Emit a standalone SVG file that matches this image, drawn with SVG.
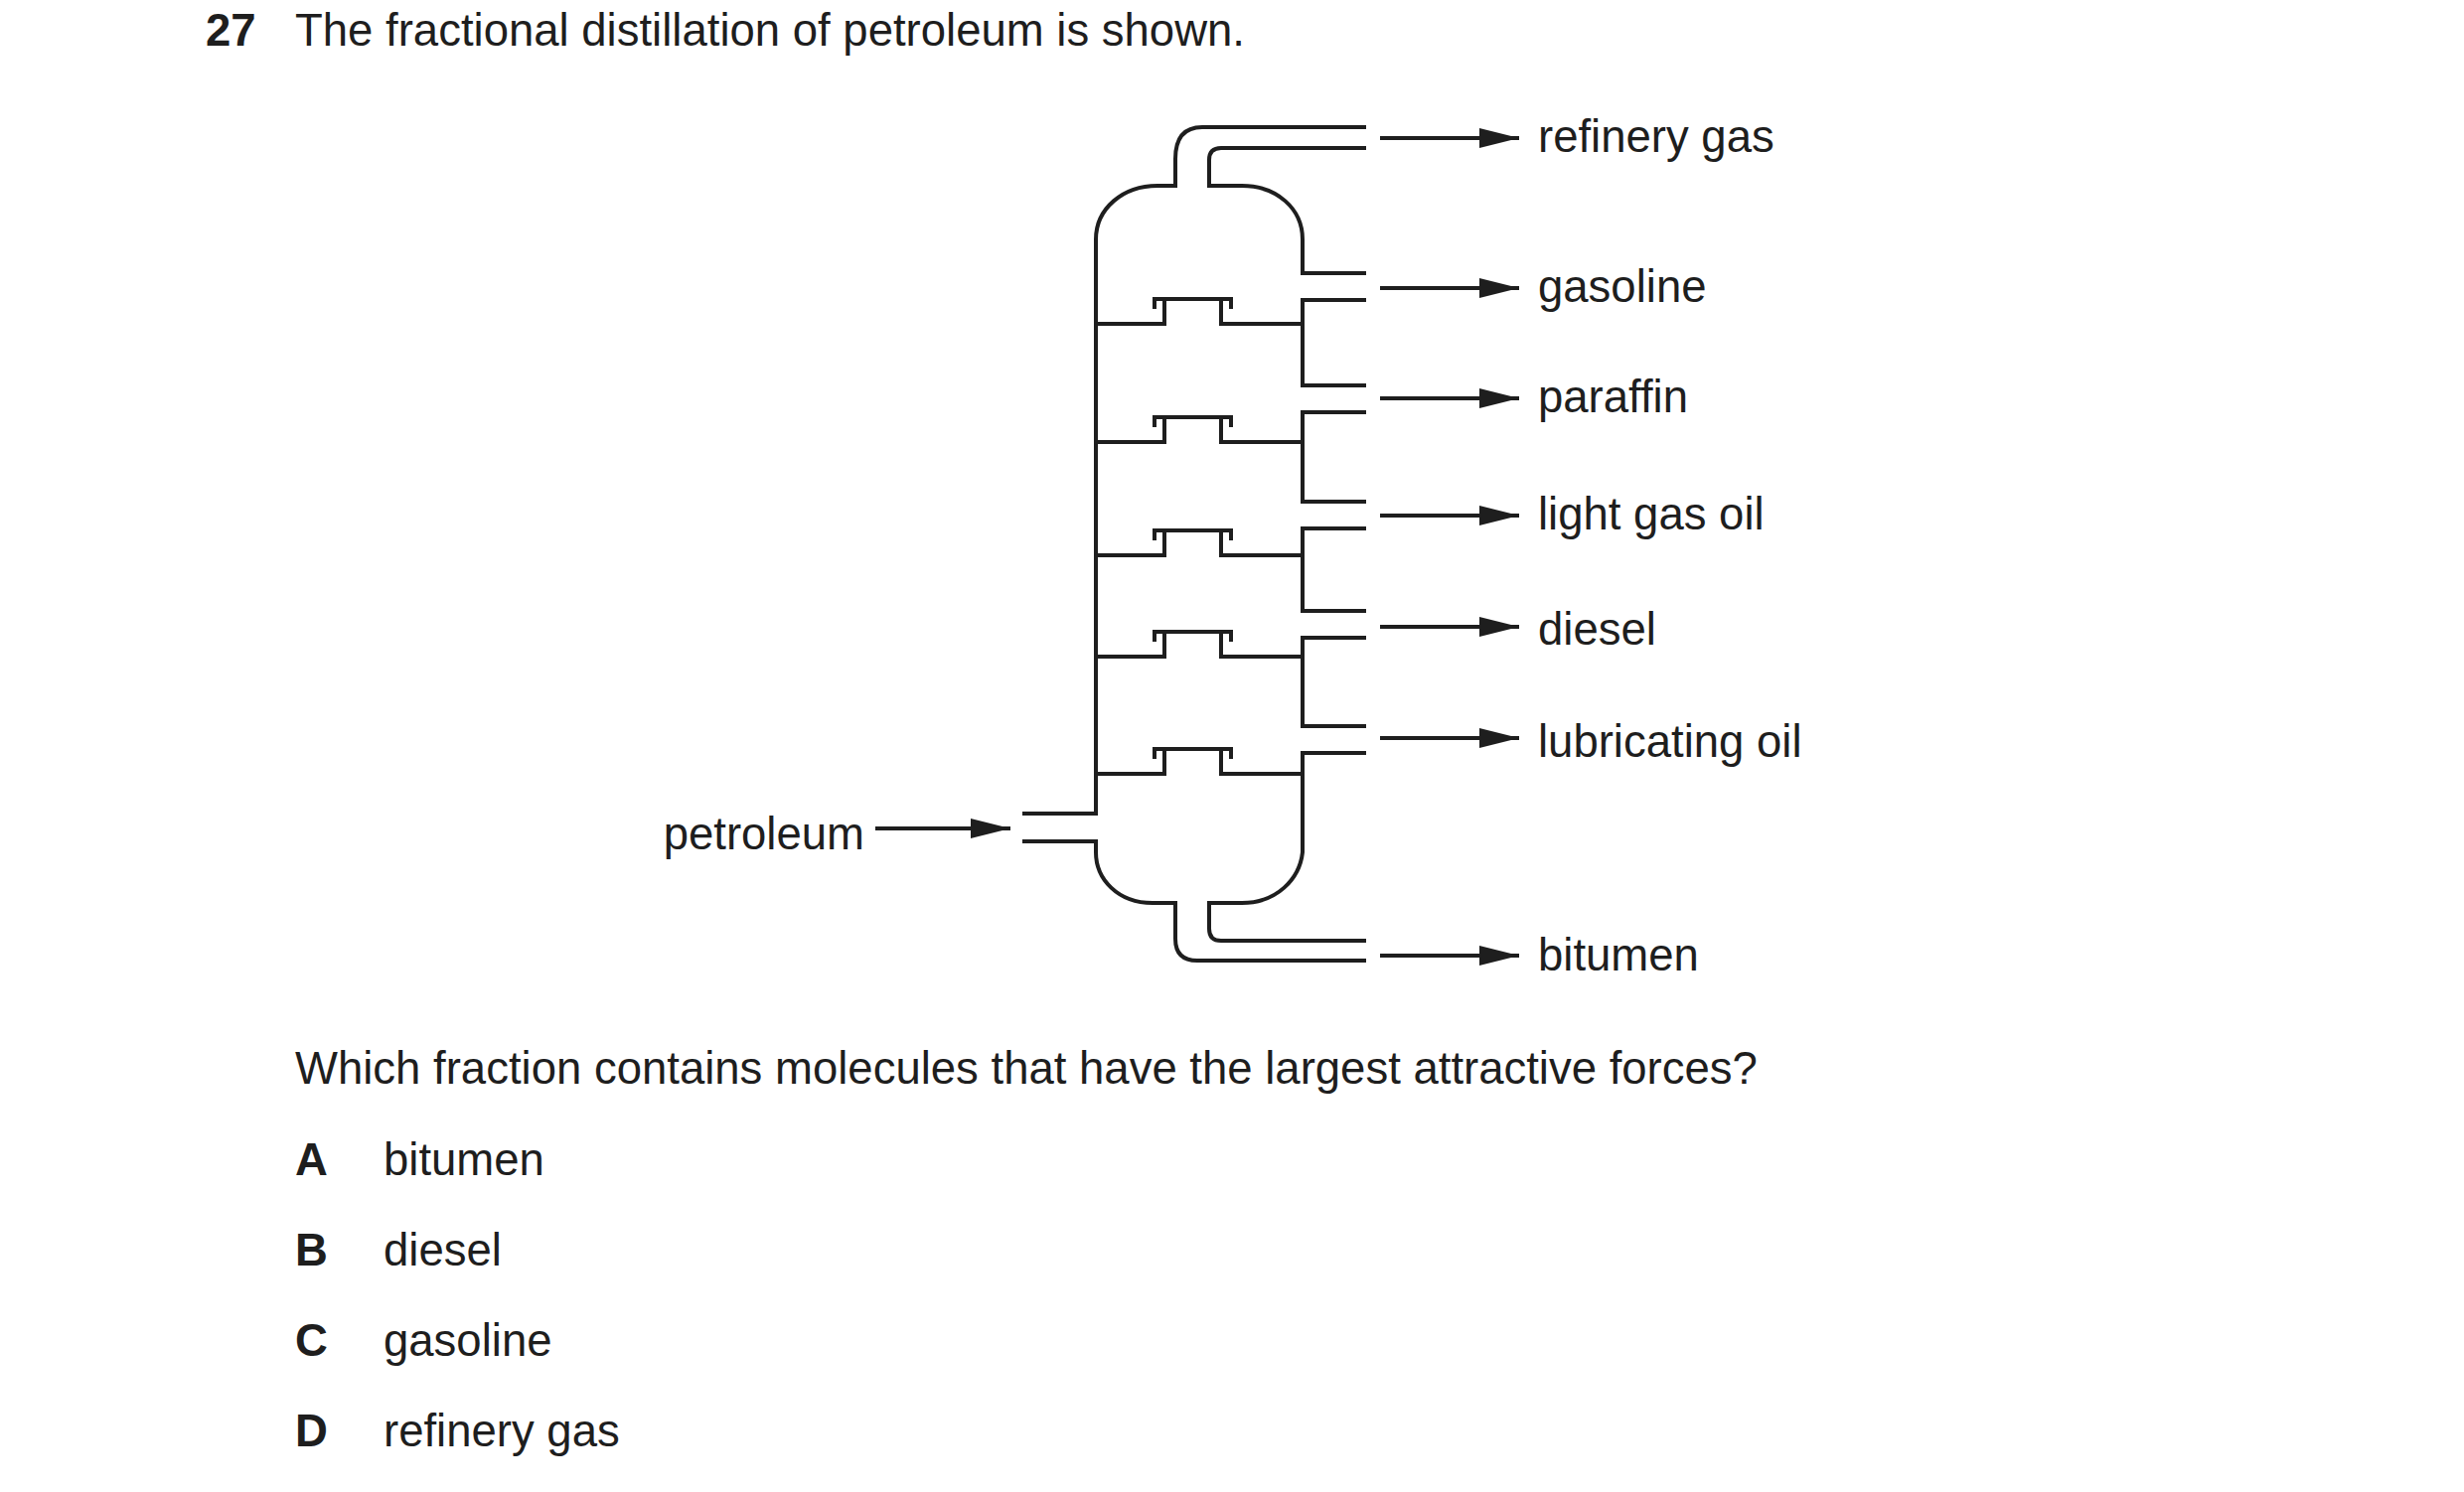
<svg xmlns="http://www.w3.org/2000/svg" width="2480" height="1502" viewBox="0 0 2480 1502">
<style>
.l{fill:none;stroke:#1e1e1e;stroke-width:4}
.t{font-family:"Liberation Sans",Arial,sans-serif;font-size:45.5px;fill:#1e1e1e}
.b{font-weight:bold}
</style>
<defs>
<marker id="a" viewBox="0 0 40 20" refX="40" refY="10" markerWidth="40" markerHeight="20" markerUnits="userSpaceOnUse" orient="auto"><path d="M0,0L40,10L0,20Z" fill="#1e1e1e"/></marker>
</defs>
<rect width="2480" height="1502" fill="#fff"/>
<text class="t b" x="207" y="46">27</text>
<text class="t" x="297" y="46">The fractional distillation of petroleum is shown.</text>
<g id="column" transform="translate(-5,0)">
<path class="l" d="M1034,819H1108V241C1108,210 1135,187 1170,187H1188V160Q1188,128 1215,128H1380"/>
<path class="l" d="M1380,149H1234Q1222,149 1222,161V187H1255C1290,187 1316,210 1316,241V275H1380"/>
<path class="l" d="M1380,302H1316V388H1380M1380,415H1316V505H1380M1380,532H1316V615H1380M1380,642H1316V731H1380M1380,758H1316V858C1313,885 1290,909 1255,909H1222V935Q1222,947 1234,947H1380"/>
<path class="l" d="M1034,847H1108V858C1108,885 1130,909 1165,909H1188V945Q1188,967 1210,967H1380"/>
<path class="l" d="M1108,326H1177V303M1234,303V326H1316M1167,311V301H1244V311"/>
<path class="l" d="M1108,445H1177V422M1234,422V445H1316M1167,430V420H1244V430"/>
<path class="l" d="M1108,559H1177V536M1234,536V559H1316M1167,544V534H1244V544"/>
<path class="l" d="M1108,661H1177V638M1234,638V661H1316M1167,646V636H1244V646"/>
<path class="l" d="M1108,779H1177V756M1234,756V779H1316M1167,764V754H1244V764"/>
</g>
<g id="connectors" transform="translate(-5,0)">
<path class="l" marker-end="url(#a)" d="M1394,139H1534"/>
<path class="l" marker-end="url(#a)" d="M1394,290H1534"/>
<path class="l" marker-end="url(#a)" d="M1394,401H1534"/>
<path class="l" marker-end="url(#a)" d="M1394,519H1534"/>
<path class="l" marker-end="url(#a)" d="M1394,631H1534"/>
<path class="l" marker-end="url(#a)" d="M1394,743H1534"/>
<path class="l" marker-end="url(#a)" d="M1394,962H1534"/>
<path class="l" marker-end="url(#a)" d="M886,834H1022"/>
</g>
<g id="labels">
<text class="t" x="1548" y="153">refinery gas</text>
<text class="t" x="1548" y="304">gasoline</text>
<text class="t" x="1548" y="415">paraffin</text>
<text class="t" x="1548" y="533">light gas oil</text>
<text class="t" x="1548" y="649">diesel</text>
<text class="t" x="1548" y="762">lubricating oil</text>
<text class="t" x="1548" y="977">bitumen</text>
<text class="t" x="870" y="855" text-anchor="end">petroleum</text>
</g>
<text class="t" x="297" y="1091">Which fraction contains molecules that have the largest attractive forces?</text>
<text class="t b" x="297" y="1183">A</text><text class="t" x="386" y="1183">bitumen</text>
<text class="t b" x="297" y="1274">B</text><text class="t" x="386" y="1274">diesel</text>
<text class="t b" x="297" y="1365">C</text><text class="t" x="386" y="1365">gasoline</text>
<text class="t b" x="297" y="1456">D</text><text class="t" x="386" y="1456">refinery gas</text>
</svg>
